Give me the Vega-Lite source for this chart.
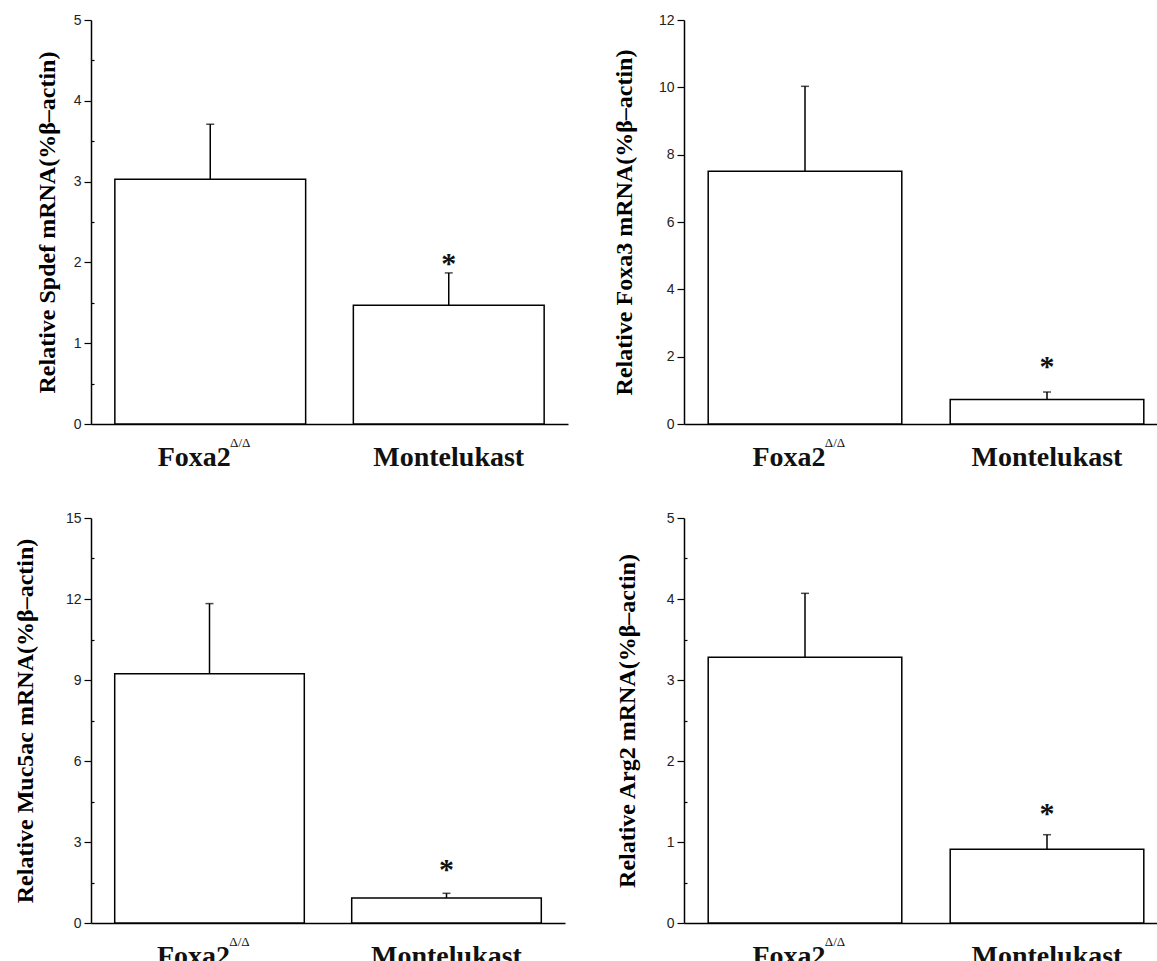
{
  "$schema": "https://vega.github.io/schema/vega-lite/v6.json",
  "background": "white",
  "padding": {"left": 12, "top": 13, "right": 0, "bottom": 0},
  "datasets": {
    "expr": [
      {"panel": "Spdef", "group": "Foxa2", "sup": "Δ/Δ", "mean": 3.03, "upper": 3.71, "sig": ""},
      {"panel": "Spdef", "group": "Montelukast", "sup": "", "mean": 1.47, "upper": 1.87, "sig": "*"},
      {"panel": "Foxa3", "group": "Foxa2", "sup": "Δ/Δ", "mean": 7.51, "upper": 10.03, "sig": ""},
      {"panel": "Foxa3", "group": "Montelukast", "sup": "", "mean": 0.73, "upper": 0.95, "sig": "*"},
      {"panel": "Muc5ac", "group": "Foxa2", "sup": "Δ/Δ", "mean": 9.23, "upper": 11.83, "sig": ""},
      {"panel": "Muc5ac", "group": "Montelukast", "sup": "", "mean": 0.93, "upper": 1.10, "sig": "*"},
      {"panel": "Arg2", "group": "Foxa2", "sup": "Δ/Δ", "mean": 3.28, "upper": 4.07, "sig": ""},
      {"panel": "Arg2", "group": "Montelukast", "sup": "", "mean": 0.91, "upper": 1.09, "sig": "*"}
    ]
  },
  "config": {
    "view": {"stroke": null},
    "axisY": {
      "domainColor": "black", "domainWidth": 1.5, "tickColor": "black", "tickWidth": 1.2,
      "labelFont": "Liberation Sans Narrow, Liberation Sans, sans-serif", "labelFontSize": 14, "labelColor": "#222",
      "labelPadding": 3, "grid": false,
      "titleFont": "Liberation Serif", "titleFontWeight": "bold", "titleFontSize": 24, "titleColor": "black",
      "titlePadding": 22
    },
    "axisX": {
      "domainColor": "black", "domainWidth": 1.5, "tickColor": "black", "tickWidth": 1.2, "tickSize": -3,
      "labelFont": "Liberation Serif", "labelFontWeight": "bold", "labelFontSize": 28, "labelColor": "#111",
      "labelAngle": 0, "labelPadding": 22, "title": null, "grid": false
    }
  },
  "spacing": 40,
  "vconcat": [
    {
      "spacing": 44,
      "hconcat": [
        {
          "width": 477, "height": 404,
          "data": {"name": "expr"},
          "transform": [{"filter": "datum.panel === 'Spdef'"}],
          "encoding": {
            "x": {"field": "group", "type": "nominal", "sort": ["Foxa2", "Montelukast"],
                  "scale": {"paddingInner": 0.2, "paddingOuter": 0.1},
                  "axis": {"labelOffset": {"condition": {"test": "datum.value === 'Foxa2'", "value": -16}, "value": 0}}}
          },
          "layer": [
            {"mark": {"type": "bar", "fill": "white", "stroke": "black", "strokeWidth": 1.5},
             "encoding": {"y": {"field": "mean", "type": "quantitative", "scale": {"domain": [0, 5], "nice": false},
               "axis": {"title": "Relative Spdef mRNA(%β–actin)", "titleX": -32,
                        "values": [0, 0.5, 1, 1.5, 2, 2.5, 3, 3.5, 4, 4.5, 5],
                        "labelExpr": "datum.value % 1 === 0 ? format(datum.value, 'd') : ''",
                        "tickSize": {"condition": {"test": "datum.value % 1 !== 0", "value": -3}, "value": 7}}}}},
            {"mark": {"type": "rule", "color": "black", "strokeWidth": 1.5},
             "encoding": {"y": {"field": "mean", "type": "quantitative"}, "y2": {"field": "upper"}}},
            {"mark": {"type": "tick", "orient": "horizontal", "size": 8, "thickness": 1.5, "color": "black"},
             "encoding": {"y": {"field": "upper", "type": "quantitative"}}},
            {"mark": {"type": "text", "font": "Liberation Serif", "fontWeight": "bold", "fontSize": 30, "baseline": "alphabetic", "dy": 0, "color": "#111"},
             "encoding": {"y": {"field": "upper", "type": "quantitative"}, "text": {"field": "sig"}}},
            {"mark": {"type": "text", "font": "Liberation Serif", "fontSize": 13, "baseline": "alphabetic", "dx": 30, "dy": 23, "color": "#111"},
             "encoding": {"y": {"datum": 0}, "text": {"field": "sup"}}}
          ]
        },
        {
          "width": 484, "height": 404,
          "data": {"name": "expr"},
          "transform": [{"filter": "datum.panel === 'Foxa3'"}],
          "encoding": {
            "x": {"field": "group", "type": "nominal", "sort": ["Foxa2", "Montelukast"],
                  "scale": {"paddingInner": 0.2, "paddingOuter": 0.1},
                  "axis": {"labelOffset": {"condition": {"test": "datum.value === 'Foxa2'", "value": -16}, "value": 0}}}
          },
          "layer": [
            {"mark": {"type": "bar", "fill": "white", "stroke": "black", "strokeWidth": 1.5},
             "encoding": {"y": {"field": "mean", "type": "quantitative", "scale": {"domain": [0, 12], "nice": false},
               "axis": {"title": "Relative Foxa3 mRNA(%β–actin)",
                        "values": [0, 1, 2, 3, 4, 5, 6, 7, 8, 9, 10, 11, 12],
                        "labelExpr": "datum.value % 2 === 0 ? format(datum.value, 'd') : ''",
                        "tickSize": {"condition": {"test": "datum.value % 2 !== 0", "value": -3}, "value": 7}}}}},
            {"mark": {"type": "rule", "color": "black", "strokeWidth": 1.5},
             "encoding": {"y": {"field": "mean", "type": "quantitative"}, "y2": {"field": "upper"}}},
            {"mark": {"type": "tick", "orient": "horizontal", "size": 8, "thickness": 1.5, "color": "black"},
             "encoding": {"y": {"field": "upper", "type": "quantitative"}}},
            {"mark": {"type": "text", "font": "Liberation Serif", "fontWeight": "bold", "fontSize": 30, "baseline": "alphabetic", "dy": -16, "color": "#111"},
             "encoding": {"y": {"field": "upper", "type": "quantitative"}, "text": {"field": "sig"}}},
            {"mark": {"type": "text", "font": "Liberation Serif", "fontSize": 13, "baseline": "alphabetic", "dx": 30, "dy": 23, "color": "#111"},
             "encoding": {"y": {"datum": 0}, "text": {"field": "sup"}}}
          ]
        }
      ]
    },
    {
      "spacing": 50,
      "hconcat": [
        {
          "width": 474, "height": 405,
          "data": {"name": "expr"},
          "transform": [{"filter": "datum.panel === 'Muc5ac'"}],
          "encoding": {
            "x": {"field": "group", "type": "nominal", "sort": ["Foxa2", "Montelukast"],
                  "scale": {"paddingInner": 0.2, "paddingOuter": 0.1},
                  "axis": {"labelOffset": {"condition": {"test": "datum.value === 'Foxa2'", "value": -16}, "value": 0}}}
          },
          "layer": [
            {"mark": {"type": "bar", "fill": "white", "stroke": "black", "strokeWidth": 1.5},
             "encoding": {"y": {"field": "mean", "type": "quantitative", "scale": {"domain": [0, 15], "nice": false},
               "axis": {"title": "Relative Muc5ac mRNA(%β–actin)", "titleX": -54,
                        "values": [0, 1.5, 3, 4.5, 6, 7.5, 9, 10.5, 12, 13.5, 15],
                        "labelExpr": "datum.value % 3 === 0 ? format(datum.value, 'd') : ''",
                        "tickSize": {"condition": {"test": "datum.value % 3 !== 0", "value": -3}, "value": 7}}}}},
            {"mark": {"type": "rule", "color": "black", "strokeWidth": 1.5},
             "encoding": {"y": {"field": "mean", "type": "quantitative"}, "y2": {"field": "upper"}}},
            {"mark": {"type": "tick", "orient": "horizontal", "size": 8, "thickness": 1.5, "color": "black"},
             "encoding": {"y": {"field": "upper", "type": "quantitative"}}},
            {"mark": {"type": "text", "font": "Liberation Serif", "fontWeight": "bold", "fontSize": 30, "baseline": "alphabetic", "dy": -14, "color": "#111"},
             "encoding": {"y": {"field": "upper", "type": "quantitative"}, "text": {"field": "sig"}}},
            {"mark": {"type": "text", "font": "Liberation Serif", "fontSize": 13, "baseline": "alphabetic", "dx": 30, "dy": 23, "color": "#111"},
             "encoding": {"y": {"datum": 0}, "text": {"field": "sup"}}}
          ]
        },
        {
          "width": 484, "height": 405,
          "data": {"name": "expr"},
          "transform": [{"filter": "datum.panel === 'Arg2'"}],
          "encoding": {
            "x": {"field": "group", "type": "nominal", "sort": ["Foxa2", "Montelukast"],
                  "scale": {"paddingInner": 0.2, "paddingOuter": 0.1},
                  "axis": {"labelOffset": {"condition": {"test": "datum.value === 'Foxa2'", "value": -16}, "value": 0}}}
          },
          "layer": [
            {"mark": {"type": "bar", "fill": "white", "stroke": "black", "strokeWidth": 1.5},
             "encoding": {"y": {"field": "mean", "type": "quantitative", "scale": {"domain": [0, 5], "nice": false},
               "axis": {"title": "Relative Arg2 mRNA(%β–actin)", "titleX": -45,
                        "values": [0, 0.5, 1, 1.5, 2, 2.5, 3, 3.5, 4, 4.5, 5],
                        "labelExpr": "datum.value % 1 === 0 ? format(datum.value, 'd') : ''",
                        "tickSize": {"condition": {"test": "datum.value % 1 !== 0", "value": -3}, "value": 7}}}}},
            {"mark": {"type": "rule", "color": "black", "strokeWidth": 1.5},
             "encoding": {"y": {"field": "mean", "type": "quantitative"}, "y2": {"field": "upper"}}},
            {"mark": {"type": "tick", "orient": "horizontal", "size": 8, "thickness": 1.5, "color": "black"},
             "encoding": {"y": {"field": "upper", "type": "quantitative"}}},
            {"mark": {"type": "text", "font": "Liberation Serif", "fontWeight": "bold", "fontSize": 30, "baseline": "alphabetic", "dy": -12, "color": "#111"},
             "encoding": {"y": {"field": "upper", "type": "quantitative"}, "text": {"field": "sig"}}},
            {"mark": {"type": "text", "font": "Liberation Serif", "fontSize": 13, "baseline": "alphabetic", "dx": 30, "dy": 23, "color": "#111"},
             "encoding": {"y": {"datum": 0}, "text": {"field": "sup"}}}
          ]
        }
      ]
    }
  ]
}
